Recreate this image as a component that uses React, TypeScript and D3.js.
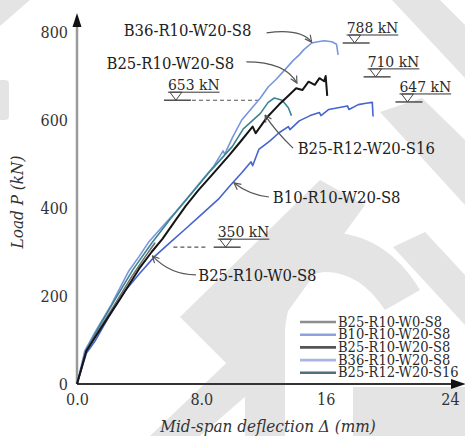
import React from "react";
import * as d3 from "d3";

// specimens (legend order)
const specimens = ["B25-R10-W0-S8", "B10-R10-W20-S8", "B25-R10-W20-S8", "B36-R10-W20-S8", "B25-R12-W20-S16"];
const lineColors = ["#6f6f6f", "#4564cf", "#151515", "#7896dc", "#3d8590"];
const legendColors = ["#8d8d8d", "#8aa2e0", "#555555", "#a9b6e4", "#4f6f7f"];

// load-deflection curves: deflection (mm), load (kN)
const deflW0 = [0, 0.6, 1.5, 2.5, 3.5, 4.3, 4.9, 4.6, 5.0, 4.7];
const loadW0 = [0, 76, 128, 185, 243, 285, 315, 300, 320, 305];

const deflB10 = [0, 0.6, 1.15, 2.0, 3.1, 4.0, 5.0, 6.0, 6.9, 8.0, 9.1, 9.8, 10.6, 11.2, 11.3, 11.7, 12.4, 13.0, 13.6, 13.7, 14.3, 15.0, 15.6, 15.7, 16.2, 16.8, 17.4, 17.5, 18.1, 18.6, 19.0, 19.05];
const loadB10 = [0, 70, 97, 150, 212, 250, 290, 322, 350, 385, 420, 449, 480, 505, 496, 533, 552, 571, 585, 578, 598, 610, 617, 610, 624, 628, 632, 624, 635, 638, 640, 608];

const deflB25 = [0, 0.6, 1.6, 2.8, 4.0, 4.8, 5.5, 6.3, 7.0, 7.8, 8.8, 9.8, 10.5, 11.0, 11.3, 11.5, 12.2, 13.0, 13.6, 14.1, 14.5, 14.9, 15.3, 15.6, 15.9, 16.0, 16.1];
const loadB25 = [0, 75, 130, 195, 262, 300, 330, 370, 405, 440, 480, 520, 550, 572, 585, 570, 605, 635, 655, 672, 668, 687, 680, 695, 688, 700, 655];

const deflB36 = [0, 0.5, 1.2, 2.2, 3.3, 4.0, 4.6, 5.6, 6.2, 6.8, 7.5, 8.2, 8.8, 9.4, 9.5, 10.0, 10.6, 11.2, 11.8, 12.3, 12.8, 13.4, 13.9, 14.3, 14.6, 15.1, 15.5, 15.9, 16.4, 16.7, 16.8];
const loadB36 = [0, 75, 120, 180, 255, 290, 322, 362, 385, 410, 440, 470, 495, 530, 522, 560, 600, 625, 650, 675, 692, 715, 735, 748, 760, 775, 778, 780, 778, 772, 748];

const deflS16 = [0, 0.6, 1.5, 2.5, 3.6, 4.8, 6.0, 7.3, 8.6, 10.0, 10.7, 11.8, 12.3, 12.7, 13.2, 13.6, 13.8];
const loadS16 = [0, 78, 135, 195, 260, 320, 375, 430, 485, 540, 580, 615, 640, 650, 645, 628, 610];

const curveDefl = [deflW0, deflB10, deflB25, deflB36, deflS16];
const curveLoad = [loadW0, loadB10, loadB25, loadB36, loadS16];
const drawOrder = [3, 1, 4, 0, 2];

// peak load markers
const peakLabels = ["788 kN", "710 kN", "647 kN", "653 kN", "350 kN"];
const peakLevel = [775, 698, 641, 645, 311];
const peakTextX = [17.35, 18.7, 20.75, 5.85, 9.05];
const peakDashFrom = [null, null, null, 7.4, 6.2];
const peakDashTo = [null, null, null, 11.9, 8.45];

// specimen call-outs: label left/baseline and leader (start, control, end)
const calloutNames = ["B36-R10-W20-S8", "B25-R10-W20-S8", "B25-R12-W20-S16", "B10-R10-W20-S8", "B25-R10-W0-S8"];
const calloutX = [3.0, 1.9, 14.2, 12.6, 7.8];
const calloutY = [791, 716, 523, 411, 234];
const leaderX = [[12.2, 14.4, 15.1], [10.9, 13.4, 14.15], [13.9, 12.7, 12.1], [12.35, 11.1, 10.1], [7.65, 6.0, 4.85]];
const leaderY = [[798, 809, 777], [732, 732, 684], [536, 577, 611], [425, 430, 457], [248, 248, 291]];

const xTicks = [0, 8, 16, 24];
const xTickLabels = ["0.0", "8.0", "16", "24"];
const yTicks = [0, 200, 400, 600, 800];

const width = 465;
const height = 436;
const font = "DejaVu Serif, serif";

export default function App() {
    const svgRef = React.useRef(null);

    React.useEffect(() => {
        document.body.style.margin = "0";
        const svg = d3.select(svgRef.current);
        svg.selectAll("*").remove();
        // narrow face, closer to the Times-like lettering of the original
        svg.style("font-family", font).style("font-stretch", "condensed");

        const x = d3.scaleLinear().domain([0, 24]).range([77, 450]);
        const y = d3.scaleLinear().domain([0, 800]).range([384, 32]);

        svg.append("rect").attr("width", width).attr("height", height).attr("fill", "#fff");

        // faint watermark in the background
        const wm = svg.append("g").attr("fill", "#e4e4e4").attr("stroke", "none");
        wm.append("path").attr("d", "M0,0 L30,0 L0,26 Z");
        wm.append("rect").attr("x", -4).attr("y", 80).attr("width", 13).attr("height", 40).attr("rx", 4);
        wm.append("path").attr("d", "M392,0 L440,0 L465,25 L465,78 Z");
        wm.append("path").attr("d", "M380,112 L422,98 L465,140 L465,205 Z");
        wm.append("path").attr("d", "M180,317 L320,180 L365,205 L240,377 Z");
        wm.append("path").attr("d", "M150,436 L240,350 L270,375 L200,436 Z");
        wm.append("path")
            .attr("d", "M245,436 L245,330 Q255,235 325,232 Q385,232 420,290 L385,310 Q360,272 325,272 Q290,275 285,330 L285,436 Z");
        wm.append("path").attr("d", "M393,247 L425,232 L465,275 L465,325 Z");
        wm.append("path").attr("d", "M353,387 L465,387 L465,436 L353,436 Z");

        const defs = svg.append("defs");
        defs.append("marker")
            .attr("id", "leadArrow")
            .attr("viewBox", "0 0 10 10")
            .attr("refX", 9).attr("refY", 5)
            .attr("markerWidth", 7).attr("markerHeight", 7)
            .attr("orient", "auto")
            .append("path")
            .attr("d", "M1,1 L9,5 L1,9")
            .attr("fill", "none")
            .attr("stroke", "#555")
            .attr("stroke-width", 1.4);

        // axes
        svg.append("line")
            .attr("x1", x(0)).attr("x2", x(0))
            .attr("y1", y(0)).attr("y2", 22)
            .attr("stroke", "#9a9a9a").attr("stroke-width", 2.5);
        svg.append("path")
            .attr("d", `M${x(0)},13 L${x(0) - 4.5},27 L${x(0) + 4.5},27 Z`)
            .attr("fill", "#111");
        svg.append("line")
            .attr("x1", x(0)).attr("x2", 455)
            .attr("y1", y(0)).attr("y2", y(0))
            .attr("stroke", "#333").attr("stroke-width", 2);
        svg.append("path")
            .attr("d", `M466,${y(0)} L451,${y(0) - 5} L451,${y(0) + 5} Z`)
            .attr("fill", "#111");

        const axisY = d3.axisLeft(y).tickValues(yTicks).tickSize(0).tickPadding(9).tickFormat(d3.format("d"));
        const gy = svg.append("g").attr("transform", `translate(${x(0)},0)`).call(axisY);
        gy.attr("font-family", null).attr("font-size", 16);
        gy.select(".domain").remove();
        gy.selectAll("text").attr("fill", "#333");

        const axisX = d3.axisBottom(x).tickValues(xTicks).tickSize(0).tickPadding(10)
            .tickFormat((d, i) => xTickLabels[i]);
        const gx = svg.append("g").attr("transform", `translate(0,${y(0)})`).call(axisX);
        gx.attr("font-family", null).attr("font-size", 16);
        gx.select(".domain").remove();
        gx.selectAll("text").attr("fill", "#333");

        svg.append("text")
            .attr("transform", `translate(23,202) rotate(-90)`)
            .attr("text-anchor", "middle")
            .attr("font-style", "italic")
            .attr("font-size", 17).attr("fill", "#333")
            .text("Load P (kN)");
        svg.append("text")
            .attr("x", 268).attr("y", 432)
            .attr("text-anchor", "middle")
            .attr("font-style", "italic")
            .attr("font-size", 17).attr("fill", "#333")
            .text("Mid-span deflection Δ (mm)");

        // dashed level lines
        peakLabels.forEach((lab, i) => {
            if (peakDashFrom[i] === null) return;
            svg.append("line")
                .attr("x1", x(peakDashFrom[i])).attr("x2", x(peakDashTo[i]))
                .attr("y1", y(peakLevel[i])).attr("y2", y(peakLevel[i]))
                .attr("stroke", "#555").attr("stroke-width", 1.1)
                .attr("stroke-dasharray", "4,3");
        });

        // curves
        const line = d3.line()
            .x(d => x(d[0]))
            .y(d => y(d[1]));
        drawOrder.forEach(k => {
            const pts = curveDefl[k].map((d, j) => [d, curveLoad[k][j]]);
            svg.append("path")
                .datum(pts)
                .attr("d", line)
                .attr("fill", "none")
                .attr("stroke", lineColors[k])
                .attr("stroke-width", k === 2 ? 2 : 1.6)
                .attr("stroke-linejoin", "round");
        });

        // peak load markers
        peakLabels.forEach((lab, i) => {
            const lv = y(peakLevel[i]);
            const tx = x(peakTextX[i]);
            const t = svg.append("text")
                .attr("x", tx).attr("y", lv - 10)
                .attr("font-size", 15.5)
                .attr("fill", "#2a2a2a")
                .text(lab);
            const tw = t.node().getComputedTextLength();
            svg.append("line")
                .attr("x1", tx).attr("x2", tx + tw)
                .attr("y1", lv - 8).attr("y2", lv - 8)
                .attr("stroke", "#333").attr("stroke-width", 1);
            svg.append("line")
                .attr("x1", tx - 4).attr("x2", tx + 23)
                .attr("y1", lv).attr("y2", lv)
                .attr("stroke", "#333").attr("stroke-width", 1.3);
            svg.append("path")
                .attr("d", `M${tx + 2},${lv - 8} L${tx + 14},${lv - 8} L${tx + 8},${lv} Z`)
                .attr("fill", "none").attr("stroke", "#444").attr("stroke-width", 1);
        });

        // call-outs
        calloutNames.forEach((name, i) => {
            svg.append("text")
                .attr("x", x(calloutX[i])).attr("y", y(calloutY[i]))
                .attr("font-size", 16.5)
                .attr("fill", "#222")
                .text(name);
            const lx = leaderX[i], ly = leaderY[i];
            svg.append("path")
                .attr("d", `M${x(lx[0])},${y(ly[0])} Q${x(lx[1])},${y(ly[1])} ${x(lx[2])},${y(ly[2])}`)
                .attr("fill", "none")
                .attr("stroke", "#555").attr("stroke-width", 1.2)
                .attr("marker-end", "url(#leadArrow)");
        });

        // legend
        const lg = svg.append("g");
        specimens.forEach((name, i) => {
            const ly = 322 + i * 12.7;
            lg.append("line")
                .attr("x1", 300).attr("x2", 336)
                .attr("y1", ly).attr("y2", ly)
                .attr("stroke", legendColors[i]).attr("stroke-width", 2.6);
            lg.append("text")
                .attr("x", 338).attr("y", ly + 4.5)
                .attr("font-size", 14.5)
                .attr("fill", "#2a2a2a")
                .text(name);
        });
    }, []);

    return <svg ref={svgRef} width={width} height={height} style={{ display: "block" }}></svg>;
}
